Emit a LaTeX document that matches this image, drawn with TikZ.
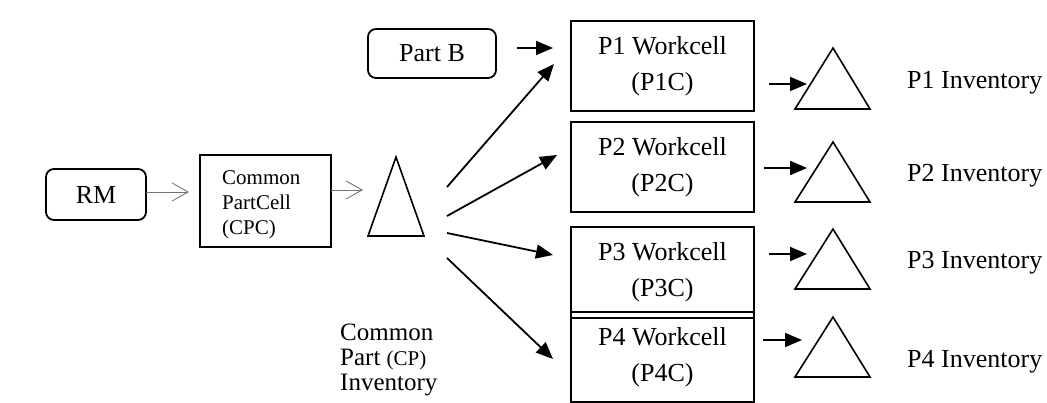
\documentclass[tikz,border=0pt]{standalone}
\usepackage{fontspec}
\setmainfont{Liberation Serif}
\usetikzlibrary{arrows.meta}
\begin{document}
\begin{tikzpicture}[x=1pt,y=-1pt,
  box/.style={draw, line width=1.8pt, inner sep=0pt, align=center},
  rbox/.style={box, rounded corners=8pt},
  cellbox/.style={box, minimum width=183pt, minimum height=90pt, font=\fontsize{26}{36}\selectfont},
  tri/.style={draw, line width=1.6pt, line join=miter},
  thinarrow/.style={draw=black!55, line width=0.9pt, -{Straight Barb[length=16pt,width=18pt]}},
  bigarrow/.style={line width=1.8pt, -{Triangle[length=17pt,width=14pt]}},
  invlabel/.style={anchor=west, inner sep=0pt, font=\fontsize{26}{30}\selectfont}
]
\useasboundingbox (0,0) rectangle (1047,403);

% left part
\node[rbox, minimum width=100pt, minimum height=51pt, font=\fontsize{26}{30}\selectfont] (rm) at (96,194.5) {RM};
\node[box, minimum width=131pt, minimum height=92pt] (cpc) at (265.5,201) {};
\node[align=left, inner sep=0pt, font=\fontsize{21}{25}\selectfont, anchor=west] (cpctext) at (222,205) {Common\\PartCell\\(CPC)};

% common part triangle
\coordinate (cpA) at (396,157);
\coordinate (cpB) at (368,236);
\coordinate (cpC) at (424,236);
\draw[tri] (cpA) -- (cpB) -- (cpC) -- cycle;
\node[align=left, inner sep=0pt, anchor=west, font=\fontsize{25}{25}\selectfont] (cplabel) at (340,360)
  {Common\\Part {\fontsize{21}{25}\selectfont(CP)}\\Inventory};

\coordinate (rmout) at (146,192);
\coordinate (cpcin) at (189,192);
\coordinate (cpcout) at (331,190);
\coordinate (cpin) at (363,190);
\draw[thinarrow] (rmout) -- (cpcin);
\draw[thinarrow] (cpcout) -- (cpin);

% Part B
\node[rbox, minimum width=128pt, minimum height=49pt, font=\fontsize{26}{30}\selectfont] (partb) at (432,53.5) {Part B};

% workcells
\node[cellbox] (p1) at (662.5,66) {P1 Workcell\\(P1C)};
\node[cellbox] (p2) at (662.5,167) {P2 Workcell\\(P2C)};
\node[cellbox, minimum height=91pt] (p3) at (662.5,272.5) {P3 Workcell\\(P3C)};
\node[cellbox] (p4) at (662.5,357) {P4 Workcell\\(P4C)};

% arrows to workcells
\coordinate (pbout) at (517,48);
\coordinate (p1inb) at (553,48);
\draw[bigarrow] (pbout) -- (p1inb);

\coordinate (s1) at (447,187);
\coordinate (s2) at (447,216);
\coordinate (s3) at (447,233);
\coordinate (s4) at (447,258);
\coordinate (e1) at (554,64);
\coordinate (e2) at (557,155);
\coordinate (e3) at (553,255);
\coordinate (e4) at (553,359);
\draw[bigarrow] (s1) -- (e1);
\draw[bigarrow] (s2) -- (e2);
\draw[bigarrow] (s3) -- (e3);
\draw[bigarrow] (s4) -- (e4);

% inventory triangles
\foreach \n/\a/\b in {1/48/109, 2/142/202, 3/229/289, 4/317/377}{
  \draw[tri] (833,\a) -- (795,\b) -- (870,\b) -- cycle;
}
\coordinate (o1) at (769,84);  \coordinate (t1) at (807,84);
\coordinate (o2) at (764,168); \coordinate (t2) at (807,168);
\coordinate (o3) at (769,254); \coordinate (t3) at (807,254);
\coordinate (o4) at (763,340); \coordinate (t4) at (802,340);
\draw[bigarrow] (o1) -- (t1);
\draw[bigarrow] (o2) -- (t2);
\draw[bigarrow] (o3) -- (t3);
\draw[bigarrow] (o4) -- (t4);

\node[invlabel] (inv1) at (907,83) {P1 Inventory};
\node[invlabel] (inv2) at (907,176) {P2 Inventory};
\node[invlabel] (inv3) at (907,263) {P3 Inventory};
\node[invlabel] (inv4) at (907,362) {P4 Inventory};
\end{tikzpicture}
\end{document}
